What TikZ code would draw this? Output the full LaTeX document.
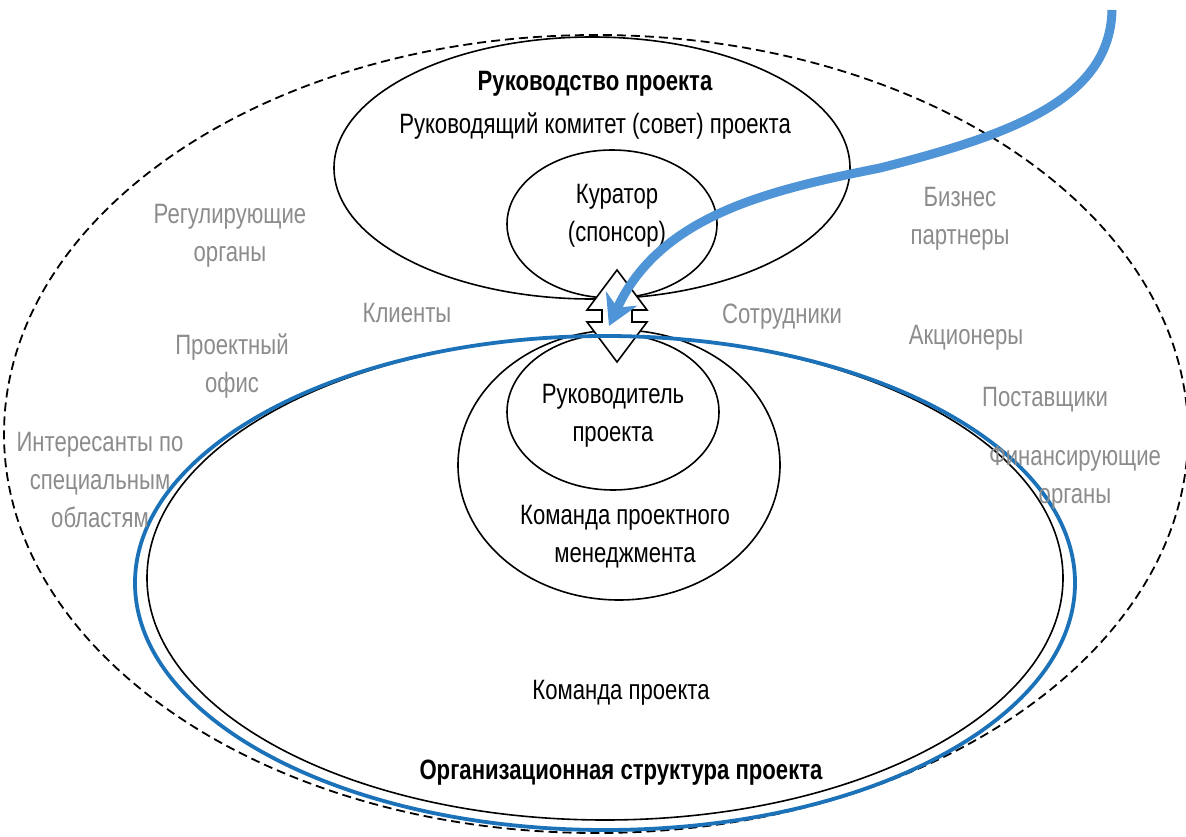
\documentclass[tikz,border=0pt]{standalone}
\usepackage{fontspec}
\setmainfont{Liberation Sans}[FakeStretch=0.79]
\usepackage{tikz}
\usetikzlibrary{shapes.geometric,arrows.meta,positioning}

\definecolor{orgblue}{RGB}{28,114,184}
\definecolor{flowblue}{RGB}{79,148,214}
\definecolor{stakegray}{RGB}{140,140,140}

\tikzset{
  oval/.style={ellipse, draw, line width=1.6pt, inner sep=0pt},
  lbl/.style={align=center, font=\fontsize{28}{38}\selectfont},
  stake/.style={lbl, text=stakegray},
  dblarrow/.style={draw, fill=white, line width=1.6pt, line join=miter},
  flow/.style={draw=flowblue, line width=9pt, -{Stealth[length=30pt,width=34pt]}}
}

\begin{document}
\begin{tikzpicture}[x=1pt,y=-1pt,node distance=38pt,on grid]
			\useasboundingbox (0,0) rectangle (1186,837);
			% stakeholders and project ovals
			\node[oval, line width=1.8pt, dash pattern=on 9pt off 5pt, minimum width=1184pt, minimum height=798pt] (env) at (596,434) {};
			\node[oval, minimum width=516pt, minimum height=262pt] (gov) at (592,168) {};
			\node[oval, minimum width=210pt, minimum height=148pt] (sponsor) at (612,224) {};
			\node[oval, minimum width=916pt, minimum height=484pt] (team) at (605,578) {};
			\node[oval, minimum width=322pt, minimum height=270pt] (pmteam) at (619,465) {};
			\node[oval, minimum width=212pt, minimum height=156pt] (pm) at (613,412) {};
			% two-way link
			\coordinate (link) at (617,316);
			\draw[dblarrow, shift={(link)}] (0,-46) -- (30,-6) -- (15,-6) -- (15,6) -- (30,6) -- (0,46)
			  -- (-30,6) -- (-15,6) -- (-15,-6) -- (-30,-6) -- cycle;
			\node[oval, draw=orgblue, line width=3.8pt, minimum width=940pt, minimum height=494pt] (org) at (605,583) {};

			% texts inside
			\node[lbl, font=\fontsize{28}{38}\selectfont\bfseries] (govtitle) at (595,84) {Руководство проекта};
			\node[lbl] (board) [below=42pt of govtitle] {Руководящий комитет (совет) проекта};
			\node[lbl] (sponsortxt) at (617,216) {Куратор\\(спонсор)};
			\node[lbl] (pmtxt) at (613,416) {Руководитель\\проекта};
			\node[lbl] (pmteamtxt) at (625,537) {Команда проектного\\менеджмента};
			\node[lbl] (teamtxt) at (621,693) {Команда проекта};
			\node[lbl, font=\fontsize{28}{38}\selectfont\bfseries] (orgtxt) [below=80pt of teamtxt] {Организационная структура проекта};

			% stakeholders
			\node[stake] (regul) at (230,236) {Регулирующие\\органы};
			\node[stake] (clients) at (407,313) {Клиенты};
			\node[stake] (pmo) at (232,366) {Проектный\\офис};
			\node[stake] (special) at (100,480) {Интересанты по\\специальным\\областям};
			\node[stake] (partners) at (960,219) {Бизнес\\партнеры};
			\node[stake] (staff) at (782,317) {Сотрудники};
			\node[stake] (share) at (966,338) {Акционеры};
			\node[stake] (supply) at (1045,400) {Поставщики};
			\node[stake] (finance) at (1075,478) {Финансирующие\\органы};

			% incoming flow
			\coordinate (src) at (1112,10);
			\coordinate (tip) at (609,326);
			\draw[flow] (src) .. controls (1110,100) and (1010,135) .. (880,168)
			  .. controls (770,190) and (660,215) .. (tip);
		\end{tikzpicture}
\end{document}
